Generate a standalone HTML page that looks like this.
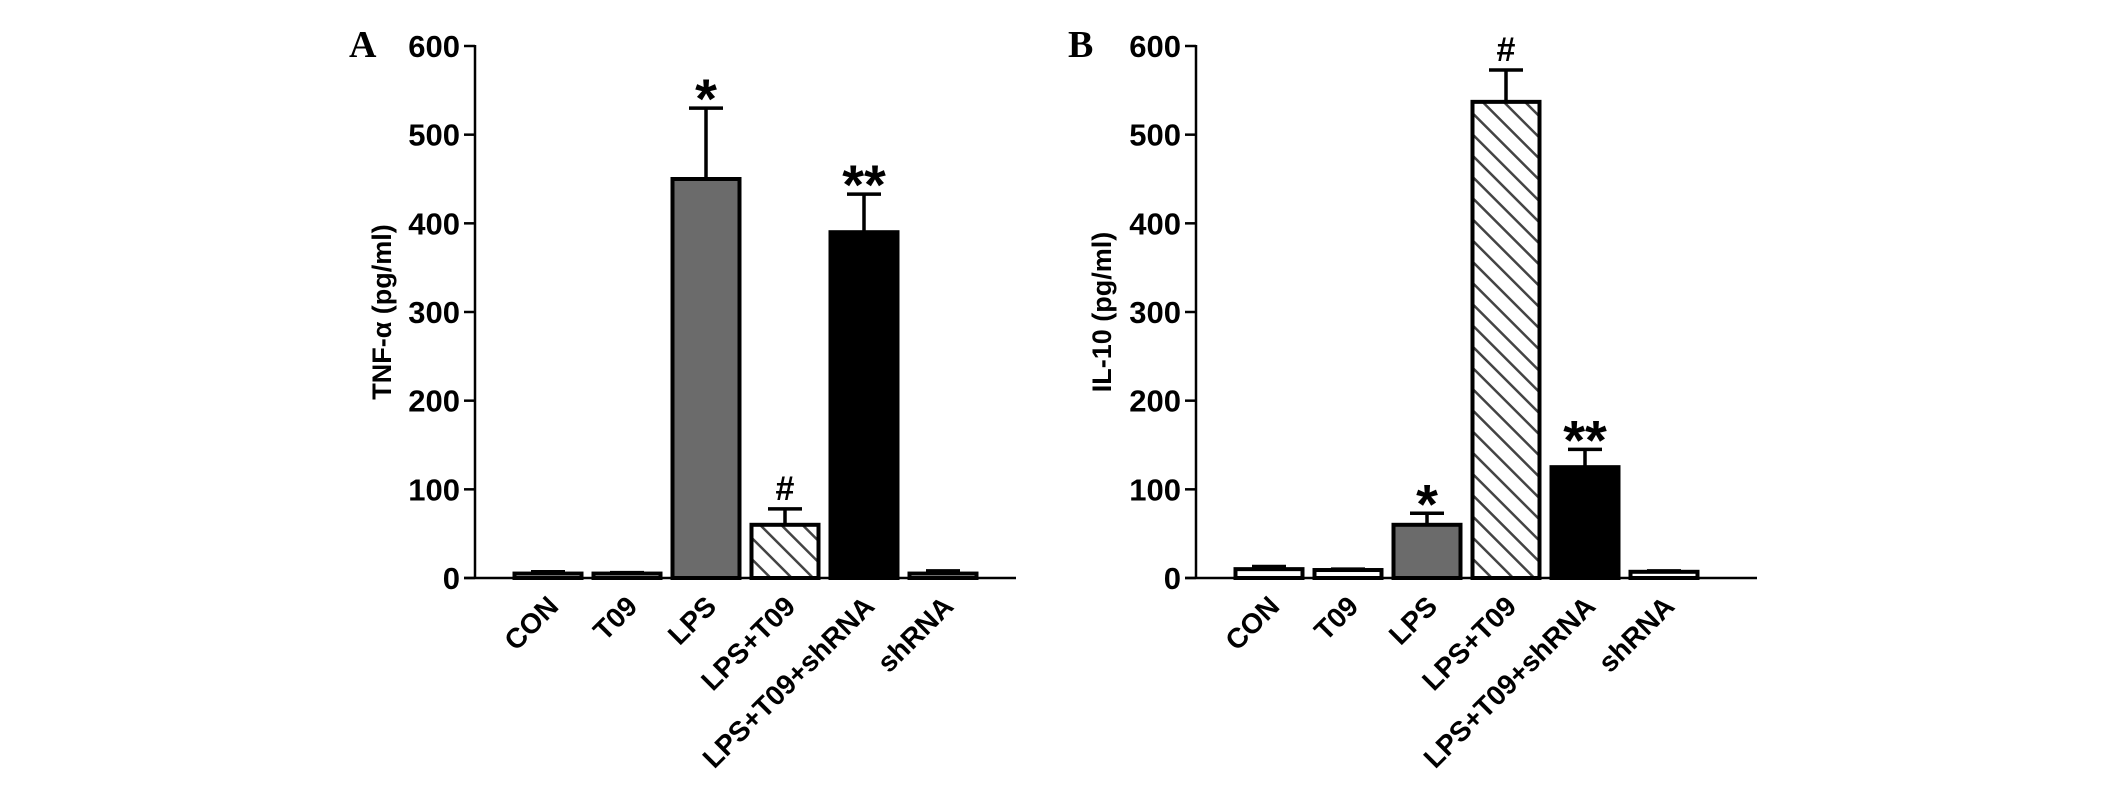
<!DOCTYPE html>
<html><head><meta charset="utf-8">
<style>
html,body{margin:0;padding:0;background:#fff;}
svg{display:block;font-family:"Liberation Sans",Arial,sans-serif;}
</style></head>
<body>
<svg id="chart" width="2126" height="785" viewBox="0 0 2126 785">
<defs>
<pattern id="hatch" patternUnits="userSpaceOnUse" width="15" height="15" patternTransform="rotate(-45)">
<rect width="15" height="15" fill="#fff"/>
<line x1="0" y1="0" x2="0" y2="15" stroke="#444" stroke-width="5"/>
</pattern>
</defs>
</svg>
<script>
const categories = ["CON","T09","LPS","LPS+T09","LPS+T09+shRNA","shRNA"];
const tnfValues = [5,5,450,60,390,5];
const tnfErrors = [2,1,80,18,43,3];
const il10Values = [10,9,60,537,125,7];
const il10Errors = [3,1,13,36,20,1];
const tnfMarks = ["","","*","#","**",""];
const il10Marks = ["","","*","#","**",""];
const yTicks = [0,100,200,300,400,500,600];

const NS="http://www.w3.org/2000/svg";
const svg=document.getElementById('chart');
const fills=["#fff","#fff","#6b6b6b","url(#hatch)","#000","#fff"];
function mk(tag,attrs,parent){const e=document.createElementNS(NS,tag);for(const k in attrs)e.setAttribute(k,attrs[k]);(parent||svg).appendChild(e);return e;}

function panel(cfg){
  const g=mk('g',{});
  
  
  const y0=578,y600=46;
  const yS=v=>y0-(v/600)*(y0-y600);
  const xS=i=>cfg.axisX+73+i*79;
  const L=mk('text',{x:cfg.letterX,y:57,'font-family':'"Liberation Serif",serif','font-weight':'bold','font-size':38},g);
  L.textContent=cfg.letter;
  
  
  const ya=mk('line',{x1:cfg.axisX,y1:y600-1,x2:cfg.axisX,y2:y0,stroke:'#000','stroke-width':2.5},g);
  
  
  yTicks.forEach(t=>{
    const y=yS(t);
    mk('line',{x1:cfg.axisX-11,y1:y,x2:cfg.axisX,y2:y,stroke:'#000','stroke-width':2.5},g);
    const tx=mk('text',{x:cfg.axisX-15,y:y+11,'text-anchor':'end','font-weight':'bold','font-size':31},g);
    tx.textContent=t;
    
    
  });
  const yt=mk('text',{x:0,y:0,'text-anchor':'middle','font-weight':'bold','font-size':27,transform:`translate(${cfg.titleX},312) rotate(-90)`},g);
  yt.textContent=cfg.title;
  
  
  cfg.values.forEach((v,i)=>{
    const cx=xS(i),w=67;
    const top=yS(v+cfg.errors[i]);
    mk('line',{x1:cx,y1:yS(v),x2:cx,y2:top,stroke:'#000','stroke-width':3.5},g);
    mk('line',{x1:cx-17,y1:top,x2:cx+17,y2:top,stroke:'#000','stroke-width':3.5},g);
    const b=mk('rect',{x:cx-w/2,y:yS(v),width:w,height:y0-yS(v),fill:fills[i],stroke:'#000','stroke-width':4},g);
    
    
    if(cfg.marks[i]){
      const star=cfg.marks[i].includes('*');
      const m=mk('text',{x:cx,y:top-(star?-10:9),'text-anchor':'middle','font-weight':'bold','font-size':star?56:34},g);
      m.textContent=cfg.marks[i];
      
      
    }
    const lb=mk('text',{x:0,y:0,'text-anchor':'end','font-weight':'bold','font-size':28,transform:`translate(${cx+12},${y0+30}) rotate(-45)`},g);
    lb.textContent=categories[i];
    
    
  });
  const xa=mk('line',{x1:cfg.axisX-11,y1:y0,x2:cfg.axisEnd,y2:y0,stroke:'#000','stroke-width':2.5},g);
  
  
}
panel({name:'panel-a-tnf',letter:'A',letterX:349,axisX:475,axisEnd:1016,titleX:391,title:'TNF-α  (pg/ml)',values:tnfValues,errors:tnfErrors,marks:tnfMarks});
panel({name:'panel-b-il10',letter:'B',letterX:1068,axisX:1196,axisEnd:1757,titleX:1111,title:'IL-10 (pg/ml)',values:il10Values,errors:il10Errors,marks:il10Marks});
</script>
</body></html>
